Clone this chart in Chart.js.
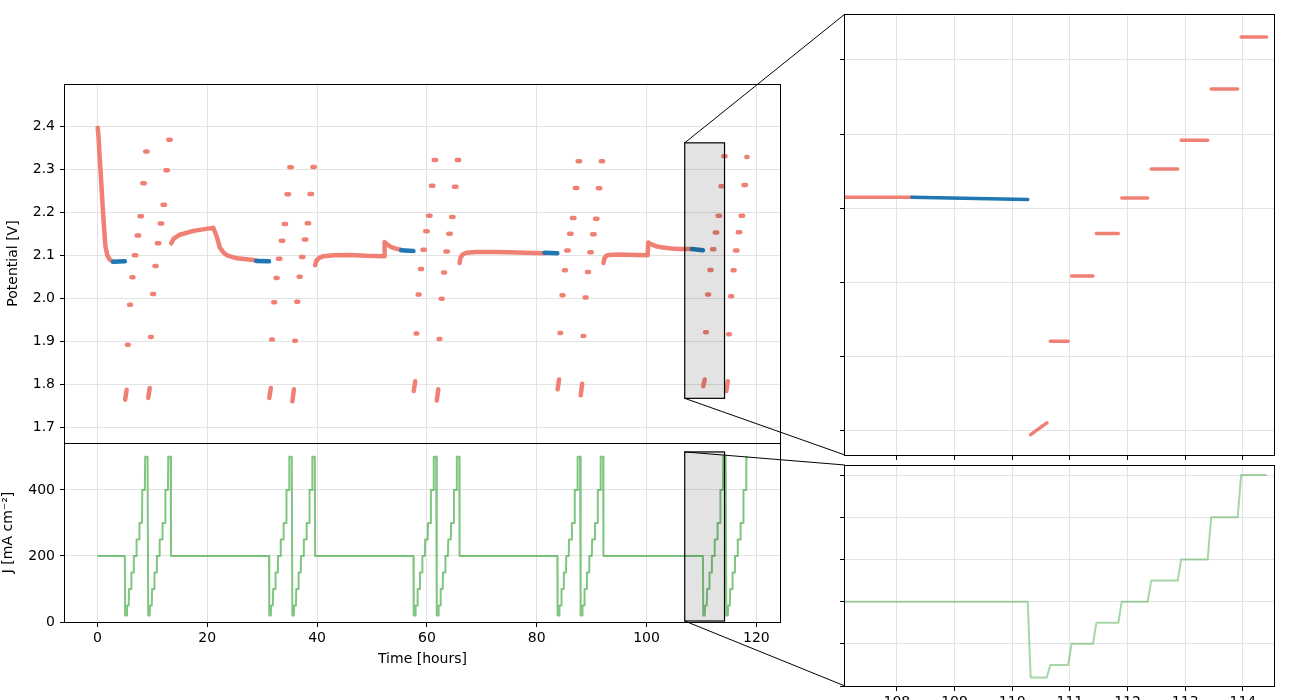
<!DOCTYPE html>
<html>
<head>
<meta charset="utf-8">
<script src="https://cdn.jsdelivr.net/npm/chart.js@4.4.0/dist/chart.umd.min.js"></script>
<style>
  html, body { margin: 0; padding: 0; background: #fff; }
  #figure { position: relative; width: 1300px; height: 700px; overflow: hidden; }
  #figure canvas { position: absolute; left: 0; top: 0; }
</style>
</head>
<body>
<div id="figure">
  <canvas id="potMain" width="1300" height="700"></canvas>
  <canvas id="curMain" width="1300" height="700"></canvas>
  <canvas id="potZoom" width="1300" height="700"></canvas>
  <canvas id="curZoom" width="1300" height="700"></canvas>
</div>
<script>
// current profile: hold at 200, then two polarisation sweeps per cycle
var holdCurrent = 200;
var sweepLevels = [20, 50, 100, 150, 200, 250, 300, 400, 500];
var sweepStepStarts = [0.05, 0.39, 0.76, 1.19, 1.63, 2.14, 2.66, 3.18, 3.70]; // hours after sweep start
var sweepLength = 4.2;
var stepRamp = 0.06;
var cycleStarts = [5.0, 31.25, 57.55, 83.75, 110.27];
var runEnd = 118.4;

// potential during the sweeps (A then B, one value per current level)
var cycle1V = [1.764, 1.892, 1.985, 2.049, 2.100, 2.146, 2.191, 2.268, 2.342, 1.768, 1.910, 2.010, 2.075, 2.128, 2.174, 2.218, 2.298, 2.369];
var cycle2V = [1.768, 1.904, 1.991, 2.047, 2.092, 2.134, 2.173, 2.242, 2.305, 1.760, 1.901, 1.992, 2.050, 2.096, 2.137, 2.175, 2.243, 2.306];
var cycle3V = [1.784, 1.918, 2.009, 2.068, 2.113, 2.156, 2.192, 2.262, 2.322, 1.762, 1.905, 1.999, 2.060, 2.109, 2.150, 2.189, 2.260, 2.322];
var cycle4V = [1.788, 1.919, 2.007, 2.065, 2.111, 2.150, 2.187, 2.257, 2.319, 1.774, 1.912, 2.002, 2.061, 2.107, 2.149, 2.185, 2.256, 2.319];
var cycle5V = [1.795, 1.921, 2.009, 2.066, 2.114, 2.153, 2.192, 2.261, 2.331, 1.784, 1.916, 2.005, 2.065, 2.111, 2.154, 2.192, 2.264, 2.329];
// potential at the end of the lowest (20) step, sweep A / sweep B
var lowEndV = [[1.787, 1.791], [1.791, 1.788], [1.807, 1.788], [1.811, 1.801], [1.811, 1.807]];

// potential during the holds
var decayTime = [0.05, 0.2, 0.4, 0.67, 1.03, 1.45, 1.8, 2.24, 2.85];
var decayV    = [2.397, 2.378, 2.33, 2.277, 2.199, 2.122, 2.1, 2.09, 2.085];
var hold1Time = [13.45, 13.9, 15, 17.5, 19.5, 21.1, 21.7, 22.3, 23.0, 23.6, 25.4, 28.4, 28.9];
var hold1V    = [2.128, 2.139, 2.148, 2.157, 2.161, 2.164, 2.145, 2.118, 2.106, 2.100, 2.093, 2.089, 2.088];
var hold2Time = [39.65, 39.9, 40.4, 41.2, 43, 46, 49, 52.2, 52.3, 52.8, 53.5, 54.5, 55.3];
var hold2V    = [2.077, 2.088, 2.094, 2.098, 2.100, 2.101, 2.099, 2.098, 2.131, 2.125, 2.119, 2.115, 2.113];
var hold3Time = [65.95, 66.15, 66.5, 67.2, 69, 72, 75, 78, 81.4];
var hold3V    = [2.082, 2.095, 2.102, 2.106, 2.108, 2.108, 2.107, 2.106, 2.105];
var hold4Time = [92.15, 92.35, 92.7, 93.2, 95, 98, 100.2, 100.3, 100.8, 101.8, 103, 104.5, 106, 108.26];
var hold4V    = [2.082, 2.094, 2.099, 2.101, 2.102, 2.101, 2.100, 2.130, 2.126, 2.121, 2.118, 2.116, 2.115, 2.115];

// highlighted (blue) windows at the end of each hold
var blueStart = [2.85, 28.9, 55.3, 81.4, 108.26];
var blueEnd   = [5.0, 31.25, 57.55, 83.75, 110.27];
var blueV0    = [2.085, 2.087, 2.112, 2.106, 2.115];
var blueV1    = [2.086, 2.086, 2.110, 2.105, 2.112];

// axis ranges
var timeRange = [-5.9, 124.3];
var potRange = [1.663, 2.499];
var curRange = [0, 542];
var zoomTime = [107.1, 114.54];
var zoomPot = [1.7676, 2.362];
var zoomCur = [0, 524];
var zoomDataEnd = 114.43;
var boxTime = [106.95, 114.2];
var boxPot = [1.767, 2.362];
var boxCur = [3, 515];

var RED = '#f08073';
var BLUE = '#1f77b4';
var GREEN = 'rgba(44,160,44,0.6)';
var GREEN_ZOOM = 'rgba(44,160,44,0.42)';
var GRID = '#e3e3e3';

Chart.defaults.font.family = "'DejaVu Sans', sans-serif";
Chart.defaults.font.size = 14;
Chart.defaults.color = '#000';

function addSeg(list, seg){
  if (list.length) list.push({x: seg[0].x, y: null});
  for (var p of seg) list.push(p);
}

function pairs(times, values){
  return times.map(function(t, i){ return {x: t, y: values[i]}; });
}

function sweepDashes(list, start, volts, lowEnds){
  for (var k = 0; k < 2; k++){
    var base = start + k * sweepLength;
    for (var i = 0; i < sweepLevels.length; i++){
      var t0 = base + sweepStepStarts[i];
      if (t0 >= runEnd) return;
      var next = i + 1 < sweepLevels.length ? sweepStepStarts[i + 1] : sweepLength;
      var t1 = Math.min(base + next - stepRamp, runEnd);
      var v0 = volts[k * sweepLevels.length + i];
      var v1 = i === 0 ? lowEnds[k] : v0;
      addSeg(list, [{x: t0, y: v0}, {x: t1, y: v1}]);
    }
  }
}

function buildRed(){
  var red = [];
  var cycles = [cycle1V, cycle2V, cycle3V, cycle4V, cycle5V];
  var holds = [[hold1Time, hold1V], [hold2Time, hold2V], [hold3Time, hold3V], [hold4Time, hold4V]];
  addSeg(red, pairs(decayTime, decayV));
  for (var c = 0; c < cycleStarts.length; c++){
    sweepDashes(red, cycleStarts[c], cycles[c], lowEndV[c]);
    if (holds[c]) addSeg(red, pairs(holds[c][0], holds[c][1]));
  }
  return red;
}

function buildBlue(){
  var blue = [];
  for (var i = 0; i < blueStart.length; i++){
    addSeg(blue, [{x: blueStart[i], y: blueV0[i]}, {x: blueEnd[i], y: blueV1[i]}]);
  }
  return blue;
}

function buildCurrent(){
  var out = [{x: 0, y: holdCurrent}];
  cycleStarts.forEach(function(s){
    out.push({x: s, y: holdCurrent});
    for (var k = 0; k < 2; k++){
      var base = s + k * sweepLength;
      for (var i = 0; i < sweepLevels.length; i++){
        var t0 = base + sweepStepStarts[i];
        if (t0 >= runEnd) return;
        var next = i + 1 < sweepLevels.length ? sweepStepStarts[i + 1] : sweepLength;
        out.push({x: t0, y: sweepLevels[i]});
        out.push({x: Math.min(base + next - stepRamp, runEnd), y: sweepLevels[i]});
      }
    }
    var back = s + 2 * sweepLength;
    if (back < runEnd) out.push({x: back, y: holdCurrent});
  });
  return out;
}

function cutForZoom(data){
  return data.filter(function(p){ return p.x <= zoomDataEnd; });
}

var redData = buildRed();
var blueData = buildBlue();
var curData = buildCurrent();

function lineSet(data, color, width, order, cap){
  return {
    data: data, borderColor: color, borderWidth: width,
    borderCapStyle: cap || 'round', borderJoinStyle: 'round',
    pointRadius: 0, fill: false, tension: 0, spanGaps: false, order: order, clip: 0
  };
}

// o: {range, step, labels, size, horizontal, title, titlePad, pad, ticks, fmt}
function axis(o){
  return {
    type: 'linear', min: o.range[0], max: o.range[1],
    border: {display: false},
    grid: {color: GRID, tickColor: '#000', tickLength: 5, drawTicks: o.ticks !== false},
    ticks: {
      display: !!o.labels, stepSize: o.step, includeBounds: false,
      padding: o.pad || 0, maxRotation: 0, autoSkip: false,
      callback: function(v){ return o.fmt ? v.toFixed(o.fmt) : String(v); }
    },
    title: {display: !!o.title, text: o.title || '', padding: o.titlePad || 0, font: {size: 14}},
    afterFit: function(scale){
      if (o.horizontal) scale.height = o.size; else scale.width = o.size;
    }
  };
}

var framePlugin = {
  id: 'frame',
  afterDraw: function(chart){
    var a = chart.chartArea, ctx = chart.ctx;
    var l = Math.round(a.left) - 0.5, t = Math.round(a.top) + 0.5;
    var r = Math.round(a.right) + 0.5, b = Math.round(a.bottom) + 0.5;
    ctx.save();
    ctx.strokeStyle = '#000';
    ctx.lineWidth = 1;
    ctx.strokeRect(l, t, r - l, b - t);
    ctx.restore();
  }
};

var boxPlugin = {
  id: 'zoomBox',
  afterDatasetsDraw: function(chart, args, opts){
    var xs = chart.scales.x, ys = chart.scales.y, ctx = chart.ctx;
    var l = xs.getPixelForValue(opts.x[0]), r = xs.getPixelForValue(opts.x[1]);
    var t = ys.getPixelForValue(opts.y[1]), b = ys.getPixelForValue(opts.y[0]);
    ctx.save();
    ctx.fillStyle = 'rgba(0,0,0,0.11)';
    ctx.fillRect(l, t, r - l, b - t);
    ctx.strokeStyle = '#000';
    ctx.lineWidth = 1.2;
    ctx.strokeRect(l, t, r - l, b - t);
    ctx.restore();
  }
};

function baseOptions(padding, scales, extraPlugins){
  var plugins = {legend: {display: false}, tooltip: {enabled: false}};
  Object.assign(plugins, extraPlugins || {});
  return {
    responsive: false, animation: false, events: [],
    layout: {padding: padding},
    plugins: plugins,
    scales: scales
  };
}

var potMain = new Chart(document.getElementById('potMain'), {
  type: 'line',
  data: {datasets: [lineSet(redData, RED, 4.5, 1), lineSet(blueData, BLUE, 4.5, 0)]},
  options: baseOptions({left: 0, top: 84, right: 520, bottom: 257}, {
    x: axis({range: timeRange, step: 20, size: 0, horizontal: true, ticks: false}),
    y: axis({range: potRange, step: 0.1, labels: true, size: 65, pad: 5, fmt: 1,
             title: 'Potential [V]', titlePad: {top: 5, bottom: 0}})
  }, {zoomBox: {x: boxTime, y: boxPot}}),
  plugins: [boxPlugin, framePlugin]
});

var curMain = new Chart(document.getElementById('curMain'), {
  type: 'line',
  data: {datasets: [lineSet(curData, GREEN, 2, 0, 'butt')]},
  options: baseOptions({left: 0, top: 443, right: 520, bottom: 0}, {
    x: axis({range: timeRange, step: 20, labels: true, size: 78, horizontal: true, pad: 3,
             title: 'Time [hours]', titlePad: {top: 0, bottom: 32}}),
    y: axis({range: curRange, step: 200, labels: true, size: 65, pad: 5,
             title: 'J [mA cm\u207B\u00B2]', titlePad: {top: 0, bottom: 0}})
  }, {zoomBox: {x: boxTime, y: boxCur}}),
  plugins: [boxPlugin, framePlugin]
});

var potZoom = new Chart(document.getElementById('potZoom'), {
  type: 'line',
  data: {datasets: [lineSet(cutForZoom(redData), RED, 3.5, 1), lineSet(cutForZoom(blueData), BLUE, 3.5, 0)]},
  options: baseOptions({left: 835, top: 14, right: 26, bottom: 235}, {
    x: axis({range: zoomTime, step: 1, size: 10, horizontal: true}),
    y: axis({range: zoomPot, step: 0.1, size: 10})
  }),
  plugins: [framePlugin]
});

var linkPlugin = {
  id: 'insetLinks',
  afterDraw: function(chart){
    var ctx = chart.ctx;
    ctx.save();
    ctx.strokeStyle = '#000';
    ctx.lineWidth = 1;
    [[potMain, potZoom, boxPot], [curMain, chart, boxCur]].forEach(function(set){
      var m = set[0], a = set[1].chartArea, yr = set[2];
      var l = m.scales.x.getPixelForValue(boxTime[0]);
      var t = m.scales.y.getPixelForValue(yr[1]);
      var b = m.scales.y.getPixelForValue(yr[0]);
      ctx.beginPath();
      ctx.moveTo(l, t); ctx.lineTo(a.left, a.top);
      ctx.moveTo(l, b); ctx.lineTo(a.left, a.bottom);
      ctx.stroke();
    });
    ctx.restore();
  }
};

var curZoom = new Chart(document.getElementById('curZoom'), {
  type: 'line',
  data: {datasets: [lineSet(cutForZoom(curData), GREEN_ZOOM, 2, 0, 'butt')]},
  options: baseOptions({left: 835, top: 465, right: 26, bottom: 0}, {
    x: axis({range: zoomTime, step: 1, labels: true, size: 14, horizontal: true, pad: 3}),
    y: axis({range: zoomCur, step: 100, size: 10})
  }),
  plugins: [framePlugin, linkPlugin]
});
</script>
</body>
</html>
